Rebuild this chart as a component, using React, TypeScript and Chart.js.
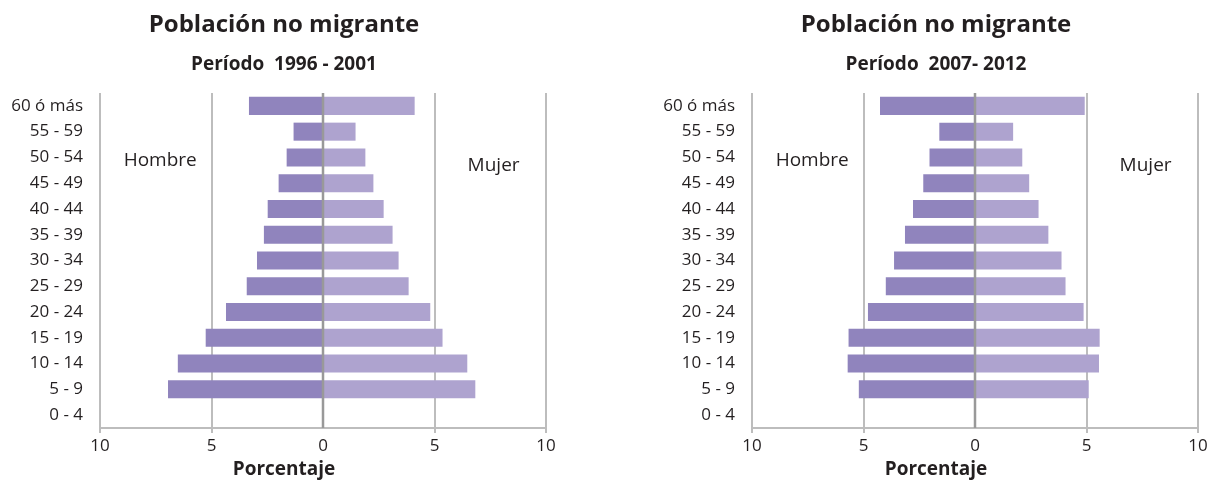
import React, { useEffect, useRef } from 'react';
import { Chart, registerables } from 'chart.js';

Chart.register(...registerables);

// ---- data (top row first) ----
const ageGroups = [
  '60 ó más', '55 - 59', '50 - 54', '45 - 49', '40 - 44', '35 - 39',
  '30 - 34', '25 - 29', '20 - 24', '15 - 19', '10 - 14', '5 - 9', '0 - 4',
];
const men1996 = [3.32, 1.32, 1.63, 1.99, 2.48, 2.65, 2.96, 3.42, 4.35, 5.26, 6.51, 6.95, 0];
const women1996 = [4.11, 1.46, 1.9, 2.26, 2.72, 3.12, 3.39, 3.84, 4.81, 5.36, 6.47, 6.83, 0];
const men2007 = [4.26, 1.6, 2.04, 2.32, 2.78, 3.14, 3.63, 4.0, 4.8, 5.67, 5.71, 5.21, 0];
const women2007 = [4.92, 1.71, 2.12, 2.43, 2.85, 3.29, 3.88, 4.06, 4.87, 5.59, 5.56, 5.1, 0];
const xTickValues = [-10, -5, 0, 5, 10];
const chartTitle = 'Población no migrante';
const period1996 = 'Período  1996 - 2001';
const period2007 = 'Período  2007- 2012';
const axisTitle = 'Porcentaje';
const sideLabels = ['Hombre', 'Mujer'];
// side label anchors in data units (x value, category index)
const sideLabelX = [-7.3, 7.65];
const sideLabelY = [2.12, 2.3];

const MEN_COLOR = '#9084bd';
const WOMEN_COLOR = '#aea3cf';
const TEXT = '#231f20';
const GRID = '#bdbdbd';
const ZERO = '#999999';
const FONT = "'Open Sans', 'Noto Sans', sans-serif";
const CANVAS_W = 568;
const CANVAS_H = 480;

Chart.defaults.font.family = FONT;

const overlayPlugin = {
  id: 'pyramidOverlay',
  afterDatasetsDraw(chart: any) {
    const { ctx, chartArea, scales } = chart;
    const x0 = scales.x.getPixelForValue(0);
    ctx.save();
    ctx.strokeStyle = ZERO;
    ctx.lineWidth = 2.5;
    ctx.beginPath();
    ctx.moveTo(x0, chartArea.top);
    ctx.lineTo(x0, chartArea.bottom);
    ctx.stroke();
    ctx.fillStyle = TEXT;
    ctx.font = `19px ${FONT}`;
    ctx.textAlign = 'center';
    ctx.textBaseline = 'middle';
    sideLabels.forEach((t, i) => {
      ctx.fillText(t, scales.x.getPixelForValue(sideLabelX[i]), scales.y.getPixelForValue(sideLabelY[i]));
    });
    ctx.restore();
  },
  afterDraw(chart: any) {
    const { ctx } = chart;
    const o = chart.options.plugins.pyramidOverlay || {};
    const cx = chart.width / 2;
    ctx.save();
    ctx.fillStyle = TEXT;
    ctx.textAlign = 'center';
    ctx.textBaseline = 'middle';
    ctx.font = `bold 24px ${FONT}`;
    ctx.fillText(chartTitle, cx, 25);
    ctx.font = `bold 19px ${FONT}`;
    ctx.fillText(o.subtitle || '', cx, 65);
    ctx.font = `bold 19px ${FONT}`;
    ctx.fillText(axisTitle, cx, 470);
    ctx.restore();
  },
};

function Pyramid({ subtitle, men, women }: { subtitle: string; men: number[]; women: number[] }) {
  const ref = useRef<HTMLCanvasElement>(null);
  useEffect(() => {
    const chart = new Chart(ref.current as HTMLCanvasElement, {
      type: 'bar',
      data: {
        labels: ageGroups,
        datasets: [
          { label: sideLabels[0], data: men.map((v) => -v), backgroundColor: MEN_COLOR },
          { label: sideLabels[1], data: women, backgroundColor: WOMEN_COLOR },
        ],
      },
      options: {
        indexAxis: 'y',
        responsive: false,
        animation: false,
        devicePixelRatio: 1,
        layout: { padding: { left: 0, right: 22, top: 93, bottom: 0 } },
        datasets: { bar: { barPercentage: 0.7, categoryPercentage: 1 } },
        plugins: {
          legend: { display: false },
          tooltip: { enabled: false },
          title: { display: false },
          pyramidOverlay: { subtitle },
        },
        scales: {
          x: {
            type: 'linear',
            stacked: true,
            min: -10,
            max: 10,
            afterBuildTicks: (s: any) => {
              s.ticks = xTickValues.map((v) => ({ value: v }));
            },
            ticks: {
              callback: (v: any) => String(Math.abs(Number(v))),
              font: { size: 17 },
              color: TEXT,
              padding: 3,
              maxRotation: 0,
            },
            grid: {
              color: (c: any) => (c.tick && c.tick.value === 0 ? 'rgba(0,0,0,0)' : GRID),
              lineWidth: 2,
              tickLength: 5,
            },
            border: { color: GRID, width: 2 },
            title: { display: false },
            afterFit: (s: any) => {
              s.height = 52;
            },
          },
          y: {
            stacked: true,
            grid: { display: false },
            border: { display: false },
            ticks: { font: { size: 17 }, color: TEXT, padding: 9 },
            afterFit: (s: any) => {
              s.width = 100;
            },
          },
        },
      } as any,
      plugins: [overlayPlugin],
    });
    return () => chart.destroy();
  }, [subtitle, men, women]);
  return (
    <canvas
      ref={ref}
      width={CANVAS_W}
      height={CANVAS_H}
      style={{ width: CANVAS_W, height: CANVAS_H, display: 'block' }}
    />
  );
}

export default function App() {
  return (
    <div
      style={{
        position: 'fixed',
        left: 0,
        top: 0,
        width: 1210,
        height: 480,
        overflow: 'hidden',
        background: '#ffffff',
      }}
    >
      <div style={{ position: 'absolute', left: 0, top: 0 }}>
        <Pyramid subtitle={period1996} men={men1996} women={women1996} />
      </div>
      <div style={{ position: 'absolute', left: 652, top: 0 }}>
        <Pyramid subtitle={period2007} men={men2007} women={women2007} />
      </div>
    </div>
  );
}
